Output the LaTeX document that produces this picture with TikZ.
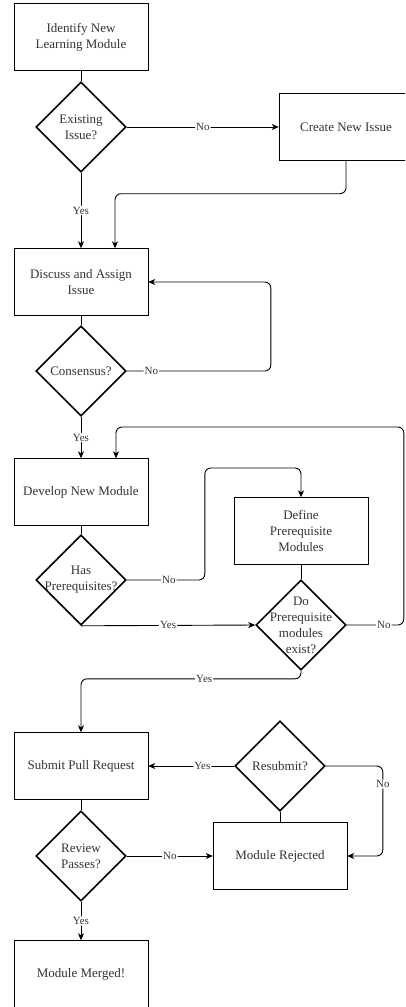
\documentclass[tikz,border=0pt]{standalone}
\usepackage{fontspec}
\setmainfont{Liberation Serif}
\usetikzlibrary{shapes.geometric, arrows.meta}
\tikzset{
process/.style={draw, rectangle, minimum width=134pt, minimum height=67pt, align=center, font=\fontsize{13}{16}\selectfont, text=black!80}, % a step of the workflow
decision/.style={draw, diamond, line width=1.6pt, minimum width=90pt, minimum height=90pt, inner sep=0pt, label={[align=center, font=\fontsize{13}{16}\selectfont, text=black!80]center:#1}}, % the question goes in as the argument
conn/.style={line width=0.9pt, rounded corners=6pt}, % plain line, no head
arr/.style={conn, -{Stealth[length=7pt, width=6pt, inset=2pt]}}, % line with a head
lbl/.style={fill=white, inner sep=1pt, font=\fontsize{11}{13}\selectfont, text=black!80}, % Yes / No on the lines
}

\begin{document}
\begin{tikzpicture}[x=1pt, y=-1pt]
    \clip (0,0) rectangle (405,1007);
    \node[process] (ident) at (81,37) {Identify New\\Learning Module};
    \node[decision={Existing\\Issue?}] (exist) at (81,127) {};
    \node[process] (create) at (346,127) {Create New Issue};
    \node[process] (discuss) at (81,282) {Discuss and Assign\\Issue};
    \node[decision={Consensus?}] (consensus) at (81,371) {};
    \node[process] (develop) at (81,492) {Develop New Module};
    \node[decision={Has\\Prerequisites?}] (hasprereq) at (81,580) {};
    \node[process] (define) at (301,531) {Define\\Prerequisite\\Modules};
    \node[decision={Do\\Prerequisite\\modules\\exist?}] (doexist) at (301,625) {};
    \node[process] (submit) at (81,766) {Submit Pull Request};
    \node[decision={Resubmit?}] (resubmit) at (280,766) {};
    \node[decision={Review\\Passes?}] (review) at (81,856) {};
    \node[process] (rejected) at (280,856) {Module Rejected};
    \node[process] (merged) at (81,974) {Module Merged!};
    % lines into the diamonds have no head
    \draw[conn]
    (ident) -- (exist)
    (discuss) -- (consensus)
    (develop) -- (hasprereq)
    (define) -- (doexist)
    (submit) -- (review)
    (rejected) -- (resubmit);
    \draw[arr] (exist) -- node[lbl]{No} (create);
    \draw[arr] (exist) -- node[lbl]{Yes} (discuss);
    \draw[arr] (create.south) -- ++(0,33) -| ([xshift=34pt]discuss.north);
    \draw[arr] (consensus.east) -- node[lbl, pos=.17]{No} ++(144,0) |- (discuss.east);
    \draw[arr] (consensus) -- node[lbl]{Yes} (develop);
    \draw[arr] (hasprereq.east) -- node[lbl, pos=.54]{No} ++(78,0) -- ++(0,-112) -| (define.north);
    \draw[arr] (hasprereq.south) -- node[lbl]{Yes} (doexist.west);
    \draw[arr] (doexist.east) -- node[lbl, pos=.65]{No} ++(57,0) -- ++(0,-198) -| ([xshift=35pt]develop.north);
    \draw[arr] (doexist.south) -- ++(0,8) -| node[lbl, pos=.22]{Yes} (submit.north);
    \draw[arr] (resubmit.west) -- node[lbl, pos=.37]{Yes} (submit.east);
    \draw[arr] (resubmit.east) -- ++(57,0) |- node[lbl, pos=.1]{No} (rejected.east);
    \draw[arr] (review) -- node[lbl]{No} (rejected);
    \draw[arr] (review) -- node[lbl]{Yes} (merged);
\end{tikzpicture}
\end{document}
